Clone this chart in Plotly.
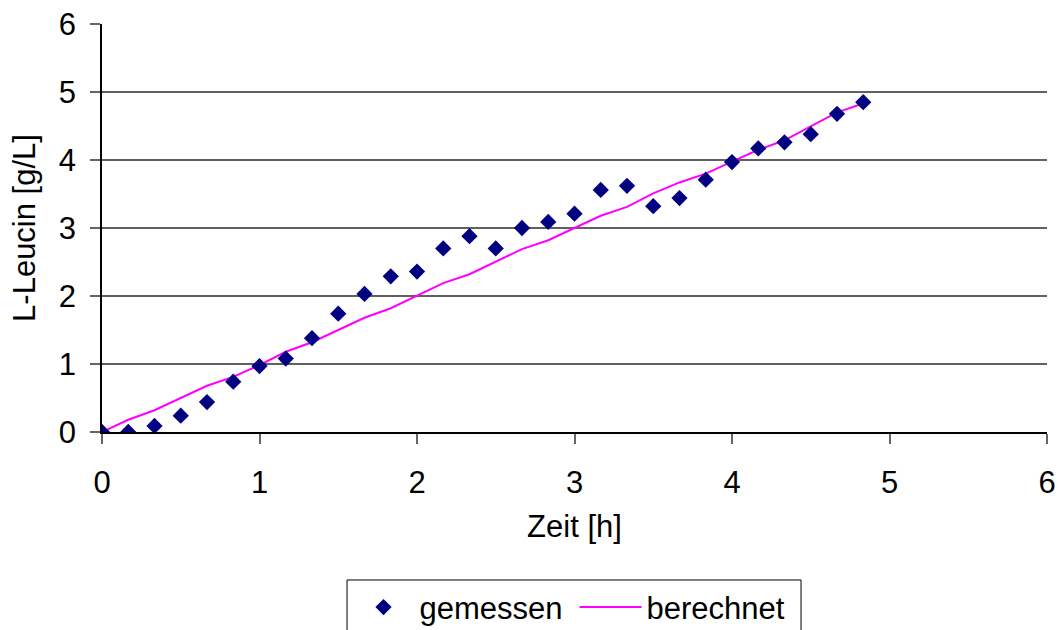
import plotly.graph_objects as go

# Zeit in 10-min steps
zeit = [i / 6 for i in range(30)]

gemessen = [0.0, 0.0, 0.09, 0.24, 0.44, 0.74, 0.97, 1.08, 1.38, 1.74,
            2.03, 2.29, 2.36, 2.70, 2.88, 2.70, 3.00, 3.09, 3.21, 3.56,
            3.62, 3.32, 3.44, 3.71, 3.97, 4.17, 4.26, 4.38, 4.68, 4.85]

berechnet = [0.0, 0.18, 0.32, 0.50, 0.68, 0.81, 0.985, 1.18, 1.32, 1.50,
             1.68, 1.82, 2.01, 2.19, 2.32, 2.51, 2.69, 2.82, 3.00, 3.18,
             3.31, 3.51, 3.67, 3.80, 3.975, 4.15, 4.29, 4.49, 4.70, 4.83]

FONT = "Liberation Sans, Arial, sans-serif"
SIZE = 31
txt = dict(family=FONT, size=SIZE, color="black")

fig = go.Figure()

fig.add_trace(go.Scatter(
    x=zeit, y=berechnet, name="berechnet", mode="lines",
    line=dict(color="#ff00ff", width=2),
))
fig.add_trace(go.Scatter(
    x=zeit, y=gemessen, name="gemessen", mode="markers",
    marker=dict(symbol="diamond", color="#000080", size=12.5,
                line=dict(width=0)),
))

# legend frame (runs off the bottom edge, as in the original)
fig.add_shape(
    type="rect", xref="paper", yref="paper",
    x0=0.2593, x1=0.7397, y0=-0.3627, y1=-0.60,
    line=dict(color="black", width=1), fillcolor="white", layer="below",
)

fig.update_layout(
    width=1058, height=630,
    paper_bgcolor="white", plot_bgcolor="white",
    font=txt,
    margin=dict(l=102, r=11, t=24, b=198, autoexpand=False),
    showlegend=True,
    legend=dict(
        orientation="h", traceorder="reversed",
        x=0.2598, y=-0.43, xanchor="left", yanchor="middle",
        borderwidth=0, bgcolor="rgba(0,0,0,0)",
        font=txt, itemwidth=62, entrywidth=150,
    ),
    xaxis=dict(
        range=[0, 6], dtick=1, tick0=0, automargin=False,
        showgrid=False, zeroline=False,
        showline=True, linecolor="black", linewidth=1.5,
        ticks="outside", ticklen=10, tickcolor="#666", tickwidth=1.5,
        tickfont=txt, ticklabelstandoff=12,
        title=dict(text="Zeit [h]", standoff=16, font=txt),
    ),
    yaxis=dict(
        range=[0, 6], dtick=1, tick0=0, automargin=False,
        showgrid=True, gridcolor="#606060", gridwidth=1.5,
        zeroline=False,
        showline=True, linecolor="black", linewidth=1.5,
        ticks="outside", ticklen=10, tickcolor="#666", tickwidth=1.5,
        tickfont=txt, ticklabelstandoff=8,
        title=dict(text="L-Leucin [g/L]", standoff=14, font=txt),
    ),
)

fig.write_html("out.html", config={"displayModeBar": False},
               post_script="document.body.style.margin='0';")
